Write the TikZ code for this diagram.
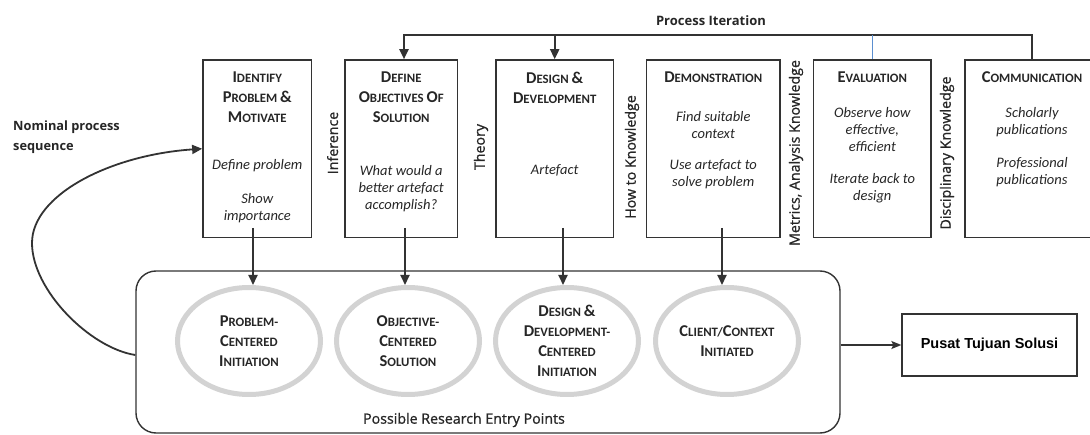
\documentclass[tikz,border=0pt]{standalone}
\usepackage{fontspec}
\setmainfont{Carlito}
\newfontfamily\osans{Open Sans}
\newfontfamily\osansm[FakeBold=1]{Open Sans}
\newfontfamily\lsans{Liberation Sans}
\usetikzlibrary{arrows.meta,shapes.geometric,calc}
\definecolor{ink}{HTML}{262626}
\definecolor{linec}{HTML}{333333}
\definecolor{ringc}{HTML}{D3D3D3}
\definecolor{iterblue}{HTML}{5B8FD0}
\newcommand\Bc[1]{{\fontsize{16.5}{20}\selectfont #1}}
\begin{document}
\begin{tikzpicture}[x=1pt,y=-1pt,
  stage/.style={draw=linec, line width=1.6pt, minimum height=177.5pt, inner sep=0pt},
  head/.style={font=\bfseries\fontsize{12.8}{20}\selectfont, align=center, text=ink, inner sep=0pt},
  body/.style={font=\itshape\fontsize{14.5}{17}\selectfont, align=center, text=ink, inner sep=0pt},
  vlabel/.style={rotate=90, font=\osansm\fontsize{14.2}{16}\selectfont, text=ink, inner sep=0pt},
  entry/.style={ellipse, draw=ringc, line width=5pt, minimum width=143pt, minimum height=107pt, inner sep=0pt, align=center, font=\bfseries\fontsize{12.8}{20}\selectfont, text=ink},
  arr/.style={draw=linec, line width=2pt, -{Triangle[length=10pt,width=9pt]}},
  thinarr/.style={draw=linec, line width=1.4pt, -{Stealth[length=10pt,width=8pt,inset=2pt]}},
]
\useasboundingbox (0,0) rectangle (1090,435);

% stage boxes
\node[stage, minimum width=108.7pt] (b1) at (257.3,148.75) {};
\node[stage, minimum width=112.3pt] (b2) at (401.2,148.75) {};
\node[stage, minimum width=117.3pt] (b3) at (554.7,148.75) {};
\node[stage, minimum width=133.5pt] (b4) at (713.3,148.75) {};
\node[stage, minimum width=117.4pt] (b5) at (872.3,148.75) {};
\node[stage, minimum width=134pt]   (b6) at (1032,148.75) {};

% headings
\node[head] (h1) at (257.3,97.5) {\Bc{I}DENTIFY\\\Bc{P}ROBLEM \Bc{\&}\\\Bc{M}OTIVATE};
\node[head] (h2) at (401.2,97.5) {\Bc{D}EFINE\\\Bc{O}BJECTIVES \Bc{O}F\\\Bc{S}OLUTION};
\node[head] (h3) at (554.7,87.5) {\Bc{D}ESIGN \Bc{\&}\\\Bc{D}EVELOPMENT};
\node[head] (h4) at (713.3,77.5) {\Bc{D}EMONSTRATION};
\node[head] (h5) at (872.3,77.5) {\Bc{E}VALUATION};
\node[head] (h6) at (1032,77.5) {\Bc{C}OMMUNICATION};

% body texts
\node[body] (t1a) at (257.3,165.7) {Define problem};
\node[body] (t1b) at (257.3,208) {Show\\importance};
\node[body] (t2) at (401.2,189) {What would a\\better artefact\\accomplish?};
\node[body] (t3) at (554.7,170) {Artefact};
\node[body] (t4a) at (713.3,124.7) {Find suitable\\context};
\node[body] (t4b) at (713.3,174) {Use artefact to\\solve problem};
\node[body] (t5a) at (872.3,130) {Observe how\\effective,\\efficient};
\node[body] (t5b) at (872.3,188.3) {Iterate back to\\design};
\node[body] (t6a) at (1032,121.7) {Scholarly\\publications};
\node[body] (t6b) at (1032,171.7) {Professional\\publications};

% vertical knowledge labels
\node[vlabel] (vinf) at (332.6,143) {Inference};
\node[vlabel] (vthe) at (481,147) {Theory};
\node[vlabel] (vhow) at (632,157) {How to Knowledge};
\node[vlabel] (vmet) at (796,153) {Metrics, Analysis Knowledge};
\node[vlabel] (vdis) at (947,153) {Disciplinary Knowledge};

% process iteration
\node[font=\osans\bfseries\fontsize{13}{15}\selectfont, text=ink, inner sep=0pt] (iter) at (711,21) {Process Iteration};
\coordinate (p2) at (404,35);
\coordinate (p3) at (554.7,35);
\coordinate (p5) at (872.3,35);
\coordinate (p6) at (1032,35);
\draw[arr] (b6.north) -- (p6) -- (p2) -- (p2 |- b2.north);
\draw[arr] (p3) -- (b3.north);
\draw[iterblue, line width=1.5pt] (p5) -- (b5.north);

% entry points
\node[draw=linec, line width=1.4pt, rounded corners=20pt, minimum width=704pt, minimum height=162pt] (entrybox) at (488,352) {};
\node[entry] (e1) at (249,341) {\Bc{P}ROBLEM-\\\Bc{C}ENTERED\\\Bc{I}NITIATION};
\node[entry] (e2) at (408,341) {\Bc{O}BJECTIVE-\\\Bc{C}ENTERED\\\Bc{S}OLUTION};
\node[entry] (e3) at (567,341) {\Bc{D}ESIGN \Bc{\&}\\\Bc{D}EVELOPMENT-\\\Bc{C}ENTERED\\\Bc{I}NITIATION};
\node[entry] (e4) at (727,341) {\Bc{C}LIENT/\Bc{C}ONTEXT\\\Bc{I}NITIATED};
\node[font=\osansm\fontsize{14.2}{16}\selectfont, text=ink, inner sep=0pt] (poss) at (464,420) {Possible Research Entry Points};

\coordinate (d1) at (253,228);
\coordinate (d2) at (405,228);
\coordinate (d3) at (563,228);
\coordinate (d4) at (722,228);
\draw[arr] (d1) -- (d1 |- e1.north);
\draw[arr] (d2) -- (d2 |- e2.north);
\draw[arr] (d3) -- (d3 |- e3.north);
\draw[arr] (d4) -- (d4 |- e4.north);

% nominal sequence loop
\node[anchor=west, align=left, font=\osans\bfseries\fontsize{12.8}{19.5}\selectfont, text=ink, inner sep=0pt] (nominal) at (13,137) {Nominal process\\sequence};
\coordinate (loopl) at (32,243);
\draw[arr, line width=1.8pt] ([yshift=-3pt]entrybox.west) .. controls (90,348) and (32,290) .. (loopl) .. controls (32,195) and (110,155) .. (b1.west);

% goal
\node[draw=linec, line width=1.3pt, minimum width=175pt, minimum height=62pt, font=\lsans\bfseries\fontsize{14.5}{16}\selectfont, text=black] (goal) at (989.5,345) {Pusat Tujuan Solusi};
\draw[thinarr] (entrybox.east |- goal.west) -- (goal.west);
\end{tikzpicture}
\end{document}
